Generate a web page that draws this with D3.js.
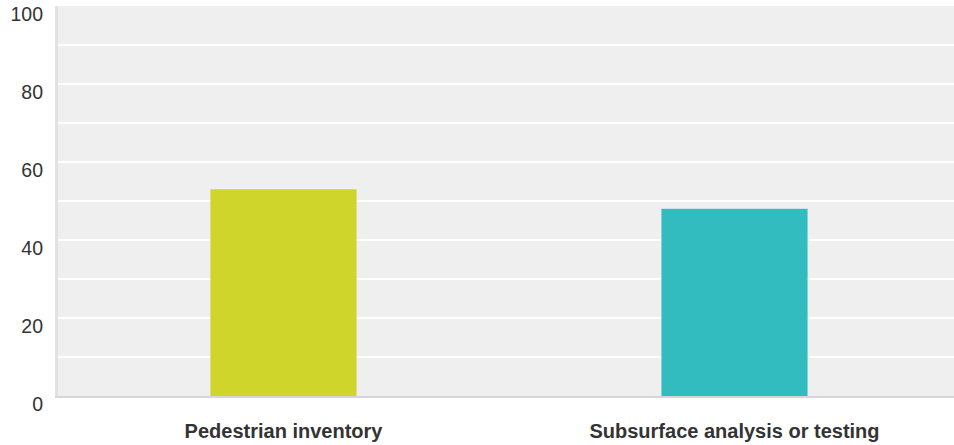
<!DOCTYPE html>
<html><head><meta charset="utf-8">
<script src="https://cdn.jsdelivr.net/npm/d3@7"></script>
<style>body{margin:0;background:#fff;}svg{display:block;}</style>
</head><body>
<svg id="c" width="954" height="445"></svg>
<script>
const categories = ["Pedestrian inventory", "Subsurface analysis or testing"];
const values = [53, 48];
const colors = ["#cfd52a", "#33bcbf"];
const tickValues = [0, 20, 40, 60, 80, 100];
const gridValues = [10, 20, 30, 40, 50, 60, 70, 80, 90];

(function () {
const svg = d3.select("#c");
const mLeft = 58, mRight = 960, mTop = 6, mBottom = 396;
const x = d3.scaleBand().domain(categories).range([mLeft, mRight]).paddingInner(0).paddingOuter(0);
const y = d3.scaleLinear().domain([0, 100]).range([mBottom, mTop]);

svg.append("rect").attr("x", mLeft).attr("y", mTop).attr("width", 954 - mLeft).attr("height", mBottom - mTop).attr("fill", "#efefef");
svg.append("rect").attr("x", mLeft - 3).attr("y", mTop).attr("width", 3).attr("height", mBottom - mTop + 1).attr("fill", "#e2e2e2");

svg.append("g").selectAll("line").data(gridValues).join("line")
  .attr("x1", mLeft).attr("x2", 954)
  .attr("y1", d => y(d)).attr("y2", d => y(d))
  .attr("stroke", "#ffffff").attr("stroke-width", 2);

const bw = x.bandwidth() * 0.324;
svg.append("g").selectAll("rect").data(categories).join("rect")
  .attr("x", d => x(d) + x.bandwidth() / 2 - bw / 2)
  .attr("width", bw)
  .attr("y", (d, i) => y(values[i]))
  .attr("height", (d, i) => y(0) - y(values[i]))
  .attr("fill", (d, i) => colors[i]);

svg.append("rect").attr("x", mLeft - 3).attr("y", mBottom).attr("width", 954 - mLeft + 3).attr("height", 2).attr("fill", "#d6d6d6");

const yAxis = d3.axisLeft(y).tickValues(tickValues).tickSize(0).tickPadding(0);
const gy = svg.append("g").attr("transform", "translate(43,0)").call(yAxis);
gy.select(".domain").remove();
gy.selectAll("text").attr("font-family", "Liberation Sans, Arial, sans-serif").attr("font-size", 19.5).attr("fill", "#333").attr("dy", 0).attr("y", 14.7);

const xAxis = d3.axisBottom(x).tickSize(0).tickPadding(0);
const gx = svg.append("g").attr("transform", "translate(0,0)").call(xAxis);
gx.select(".domain").remove();
gx.selectAll("text").attr("font-family", "Liberation Sans, Arial, sans-serif").attr("font-size", 20).attr("font-weight", "bold").attr("fill", "#333").attr("dy", 0).attr("y", 438);
})();
</script>
</body></html>
